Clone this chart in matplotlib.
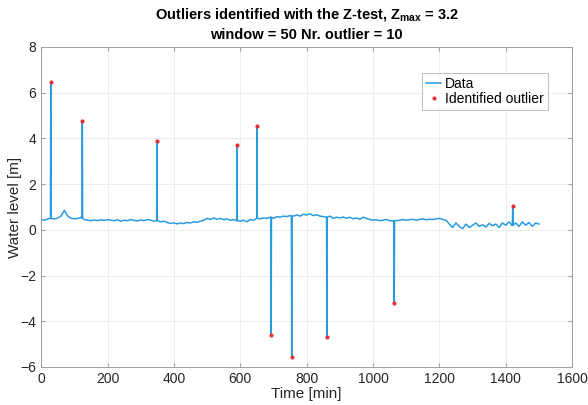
import numpy as np
import matplotlib
matplotlib.use("Agg")
import matplotlib.pyplot as plt

plt.rcParams['font.family'] = ['Liberation Sans', 'DejaVu Sans']
plt.rcParams['mathtext.fontset'] = 'custom'
plt.rcParams['mathtext.rm'] = 'Liberation Sans:bold'
plt.rcParams['mathtext.bf'] = 'Liberation Sans:bold'

# water level, one value every 10 min (0 ... 1500)
step = 10
level = [
    0.45, 0.42, 0.48,
    0.50, 0.47, 0.52, 0.60,
    0.85, 0.60, 0.50, 0.48, 0.50, 0.55,
    0.45, 0.42, 0.40, 0.43, 0.40, 0.44, 0.41, 0.45,
    0.42, 0.40, 0.44, 0.38, 0.42, 0.40, 0.45, 0.41, 0.39, 0.43, 0.40, 0.45, 0.42, 0.38,
    0.40, 0.35, 0.38, 0.32,
    0.28, 0.30, 0.26, 0.30, 0.27, 0.32, 0.30, 0.35, 0.33,
    0.38, 0.42, 0.50, 0.45, 0.52, 0.46, 0.50, 0.44, 0.48, 0.42, 0.45, 0.40,
    0.38, 0.42, 0.35, 0.45, 0.42, 0.50,
    0.48, 0.52, 0.50, 0.55, 0.50, 0.58, 0.55, 0.60, 0.58, 0.62, 0.60, 0.65, 0.60,
    0.68, 0.65, 0.70, 0.62, 0.66, 0.60, 0.58, 0.55, 0.60, 0.50, 0.55, 0.52,
    0.56, 0.50, 0.55, 0.48, 0.52, 0.46, 0.55, 0.50, 0.45, 0.42, 0.44, 0.40, 0.42, 0.45, 0.40, 0.38,
    0.40, 0.42, 0.45, 0.42, 0.44, 0.46, 0.42, 0.45, 0.48, 0.44, 0.46, 0.45, 0.48, 0.50, 0.45, 0.42,
    0.25, 0.10, 0.30, 0.15, 0.05, 0.25, 0.10, 0.20, 0.30, 0.15, 0.22, 0.12, 0.28, 0.18,
    0.25, 0.10, 0.30, 0.20, 0.35, 0.18, 0.30, 0.15, 0.35, 0.20, 0.32, 0.15, 0.30, 0.25,
]

# identified outliers
out_t = [29, 124, 349, 590, 650, 693, 755, 861, 1064, 1421]
out_y = [6.45, 4.74, 3.89, 3.72, 4.56, -4.62, -5.58, -4.71, -3.22, 1.05]
# water level just next to each outlier
out_base = [0.50, 0.50, 0.40, 0.40, 0.50, 0.55, 0.60, 0.55, 0.40, 0.20]

time_base = np.arange(len(level)) * step
ot = np.array(out_t)
t_all = np.concatenate([time_base, ot - 1, ot, ot + 1])
y_all = np.concatenate([level, out_base, out_y, out_base])
order = np.argsort(t_all, kind='stable')
t_all = t_all[order]
y_all = y_all[order]

fig = plt.figure(figsize=(5.88, 4.05), dpi=100)
ax = fig.add_axes([0.070, 0.094, 0.903, 0.790])

ax.plot(t_all, y_all, color='#2a9be2', lw=1.1, label='Data')
ax.plot(out_t, out_y, ls='none', marker='o', ms=2.0, color='#e2323c',
        label='Identified outlier')

ax.set_xlim(0, 1600)
ax.set_ylim(-6, 8)
ax.set_xticks(np.arange(0, 1601, 200))
ax.set_yticks(np.arange(-6, 9, 2))
ax.grid(True, color='#ececec', lw=0.7)
ax.set_axisbelow(True)
for s in ax.spines.values():
    s.set_color('#a0a0a0')
    s.set_linewidth(0.7)
ax.tick_params(direction='in', length=3, top=True, right=True,
               color='#a0a0a0', labelsize=10, labelcolor='#262626')

ax.set_xlabel('Time [min]', fontsize=11, color='#262626', labelpad=1)
ax.set_ylabel('Water level [m]', fontsize=11, color='#262626', labelpad=-1)
ax.set_title('Outliers identified with the Z-test, Z$_{\\rm max}$ = 3.2\n'
             'window = 50 Nr. outlier = 10',
             fontsize=10.5, fontweight='bold', linespacing=1.3, pad=6)

leg = ax.legend(loc='upper right', bbox_to_anchor=(0.955, 0.92), fontsize=10,
                frameon=True, fancybox=False, borderpad=0.3, handlelength=1.1,
                handletextpad=0.3, labelspacing=0.1, borderaxespad=0)
leg.get_frame().set_edgecolor('#b0b0b0')
leg.get_frame().set_linewidth(0.7)

fig.savefig('out.png', dpi=100)
